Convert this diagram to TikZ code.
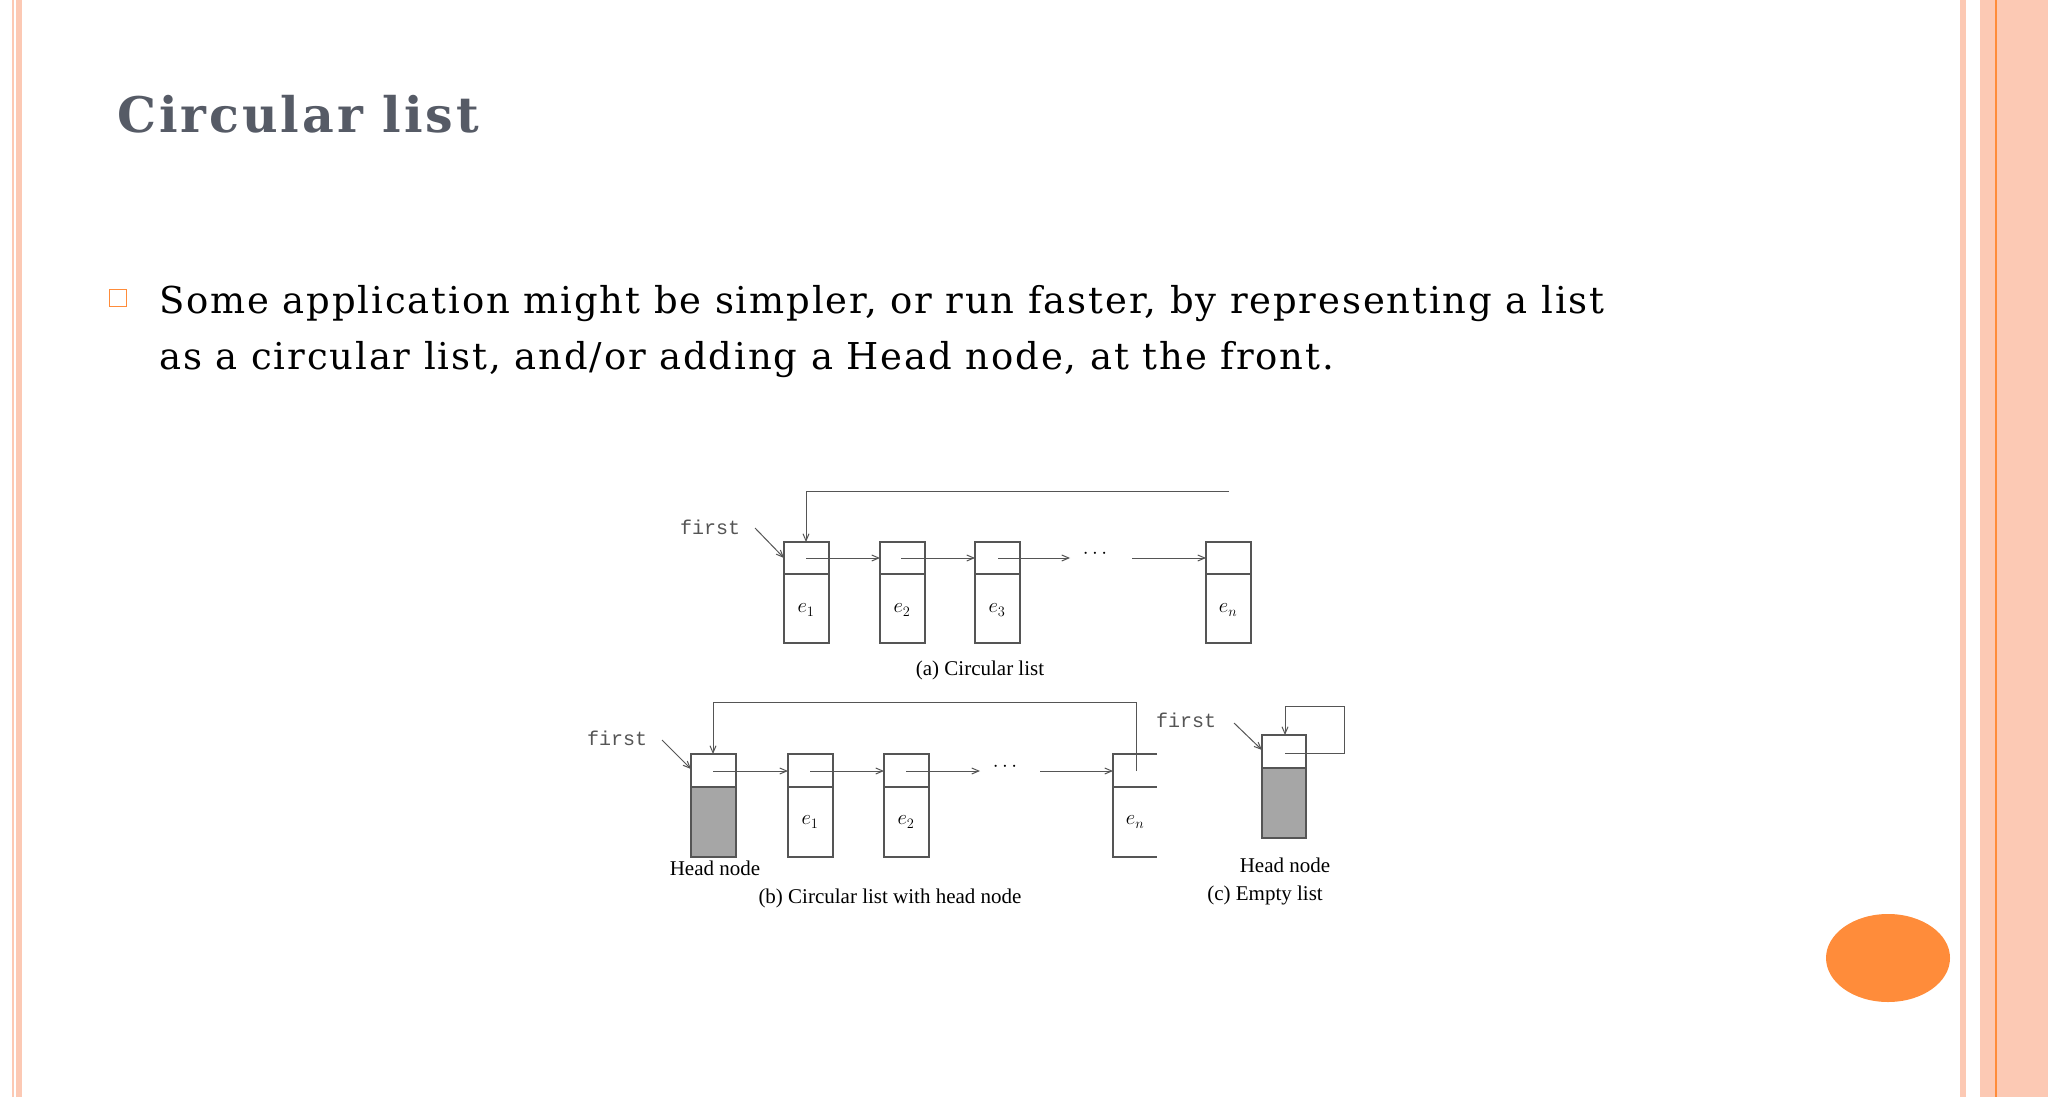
\documentclass[tikz,border=0pt]{standalone}
\usepackage{fontspec}
\setmainfont{DejaVu Serif}
\newfontfamily\tms{Liberation Serif}
\newfontfamily\mono{Liberation Mono}
\usetikzlibrary{arrows.meta,shapes.geometric}
\definecolor{peach}{HTML}{FCC9B4}
\definecolor{orng}{HTML}{FF8C3A}
\definecolor{ttl}{HTML}{565B66}
\definecolor{ln}{HTML}{555555}
\begin{document}
\begin{tikzpicture}[x=1pt,y=-1pt,
  cell/.style={draw=ln,line width=1.2pt},
  arr/.style={draw=ln,line width=1pt,-{Straight Barb[length=7pt,width=6pt]}},
  lbl/.style={font=\tms\fontsize{21}{22}\selectfont,inner sep=0},
  elbl/.style={font=\tms\itshape\fontsize{21}{22}\selectfont,inner sep=0},
  fst/.style={font=\mono\fontsize{20}{22}\selectfont,inner sep=0,text=ln},
  body/.style={anchor=base west,font=\fontsize{37}{56}\selectfont\addfontfeature{LetterSpace=5},inner sep=0}]
\useasboundingbox (0,0) rectangle (2048,1097);
\fill[white] (0,0) rectangle (2048,1097);
% borders
\fill[peach] (12,0) rectangle (14,1097);
\fill[peach] (16,0) rectangle (22,1097);
\fill[peach] (1960,0) rectangle (1966,1097);
\fill[peach] (1980,0) rectangle (2048,1097);
\draw[orng,line width=1.5pt] (1996,0) -- (1996,1097);
\node[fill=orng,ellipse,minimum width=124,minimum height=88,inner sep=0] (dot) at (1888,958) {};
% title and text
\node[anchor=base west,inner sep=0,text=ttl,font=\bfseries\fontsize{49}{56}\selectfont] (title) at (117,133) {\addfontfeature{LetterSpace=6}Circular list};
\node[draw=orng,line width=1pt,minimum size=17,inner sep=0] (bul) at (118,298) {};
\node[body] (txt1) at (159,313) {Some application might be simpler, or run faster, by representing a list};
\node[body] (txt2) at (159,369) {as a circular list, and/or adding a Head node, at the front.};
% (a)
\foreach \n/\x/\l in {a1/784/$e_1$,a2/880/$e_2$,a3/975/$e_3$,an/1206/$e_n$}{
  \draw[cell] (\x,542) rectangle (\x+45,643);
  \draw[cell] (\x,574) -- (\x+45,574);
  \coordinate (\n) at (\x,558);
  \node[elbl] (\n l) at (\x+22,610) {\l};
}
\coordinate (aloop) at (1229,491);
\draw[arr] (aloop) -- (806,491) -- (806,542);
\draw[arr] (806,558) -- (a2);
\draw[arr] (901,558) -- (a3);
\draw[arr] (998,558) -- (1070,558);
\node[lbl] (adots) at (1095,554) {$\cdots$};
\draw[arr] (1132,558) -- (an);
\node[fst] (af) at (710,527) {first};
\draw[arr] (755,528) -- (a1);
\node[lbl] (acap) at (980,670) {(a) Circular list};
% (b)
\fill[gray!70] (691,787) rectangle (736,857);
\draw[cell] (691,754) rectangle (736,857);
\draw[cell] (691,787) -- (736,787);
\coordinate (bh) at (691,769);
\foreach \n/\x/\l in {b1/788/$e_1$,b2/884/$e_2$}{
  \draw[cell] (\x,754) rectangle (\x+45,857);
  \draw[cell] (\x,787) -- (\x+45,787);
  \coordinate (\n) at (\x,771);
  \node[elbl] (\n l) at (\x+22,822) {\l};
}
\draw[cell] (1157,754) -- (1113,754) -- (1113,857) -- (1157,857);
\draw[cell] (1113,787) -- (1157,787);
\coordinate (bn) at (1113,771);
\node[elbl] (bnl) at (1135,822) {$e_n$};
\draw[arr] (1136,771) -- (1136,702) -- (713,702) -- (713,754);
\draw[arr] (713,771) -- (b1);
\draw[arr] (810,771) -- (b2);
\draw[arr] (906,771) -- (980,771);
\node[lbl] (bdots) at (1005,767) {$\cdots$};
\draw[arr] (1040,771) -- (bn);
\node[fst] (bf) at (617,738) {first};
\draw[arr] (662,740) -- (bh);
\node[lbl] (bhn) at (715,868) {Head node};
\node[lbl] (bcap) at (890,898) {(b) Circular list with head node};
% (c)
\fill[gray!70] (1262,768) rectangle (1306,838);
\draw[cell] (1262,735) rectangle (1306,838);
\draw[cell] (1262,768) -- (1306,768);
\coordinate (ch) at (1262,750);
\draw[arr] (1285,753) -- (1344,753) -- (1344,706) -- (1285,706) -- (1285,735);
\node[fst] (cf) at (1186,720) {first};
\draw[arr] (1234,723) -- (ch);
\node[lbl] (chn) at (1285,865) {Head node};
\node[lbl] (ccap) at (1265,895) {(c) Empty list};
\end{tikzpicture}
\end{document}
